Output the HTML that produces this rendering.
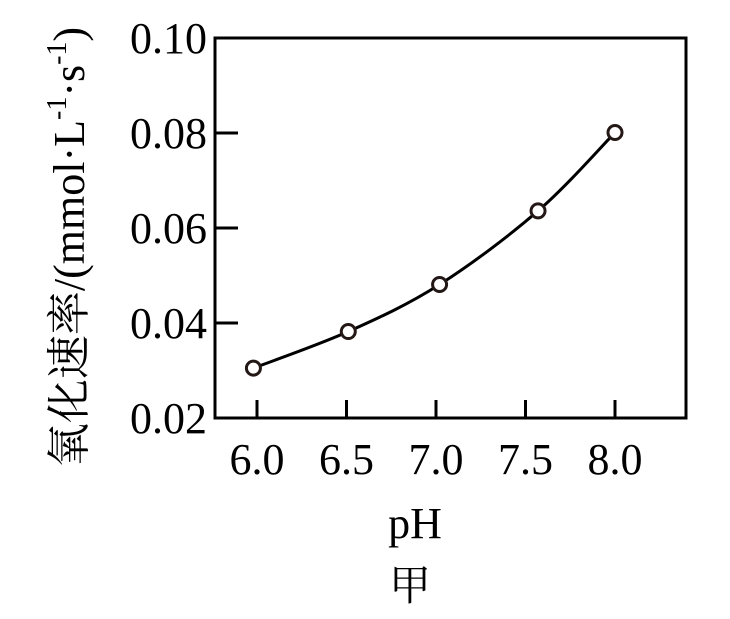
<!DOCTYPE html>
<html><head><meta charset="utf-8"><style>
body{margin:0;background:#fff}
svg text{font-family:"Liberation Serif","Noto Serif CJK SC",serif;fill:#000}
</style></head><body>
<svg width="730" height="614">
<g id="g"></g>
</svg>
<script>
const xTicks=[6.0,6.5,7.0,7.5,8.0];
const xTickLabels=["6.0","6.5","7.0","7.5","8.0"];
const yTicks=[0.02,0.04,0.06,0.08,0.10];
const yTickLabels=["0.02","0.04","0.06","0.08","0.10"];
const phValues=[5.98,6.51,7.02,7.57,8.0];
const rateValues=[0.0305,0.0382,0.0481,0.0636,0.0801];
const L=215,R=686,T=38,B=418;
const sx=v=>257+(v-6)*179;
const sy=v=>B-(v-0.02)*4750;
const ns="http://www.w3.org/2000/svg",g=document.getElementById('g');
function mk(t,a){const e=document.createElementNS(ns,t);for(const k in a)e.setAttribute(k,a[k]);g.appendChild(e);return e;}
let e=mk('rect',{x:L,y:T,width:R-L,height:B-T,fill:'none',stroke:'#000','stroke-width':3});


xTicks.forEach((v,i)=>{
 let t=mk('line',{x1:sx(v),x2:sx(v),y1:B,y2:B-18,stroke:'#000','stroke-width':3});
 
 
 let l=mk('text',{x:sx(v),y:B+56,'text-anchor':'middle','font-size':44});
 l.textContent=xTickLabels[i];
 
 
});
yTicks.forEach((v,i)=>{
 if(i>0&&i<yTicks.length-1){let t=mk('line',{x1:L,x2:L+23,y1:sy(v),y2:sy(v),stroke:'#000','stroke-width':3});
 
 }
 let l=mk('text',{x:L-8,y:sy(v)+15,'text-anchor':'end','font-size':44});
 l.textContent=yTickLabels[i];
 
 
});
const P=phValues.map((v,i)=>[sx(v),sy(rateValues[i])]);
let d='M'+P[0][0]+','+P[0][1];
for(let i=0;i<P.length-1;i++){const p0=P[i-1]||P[i],p1=P[i],p2=P[i+1],p3=P[i+2]||P[i+1];
 d+=` C${p1[0]+(p2[0]-p0[0])/6},${p1[1]+(p2[1]-p0[1])/6} ${p2[0]-(p3[0]-p1[0])/6},${p2[1]-(p3[1]-p1[1])/6} ${p2[0]},${p2[1]}`;}
e=mk('path',{d:d,fill:'none',stroke:'#000','stroke-width':3});


P.forEach(p=>{let c=mk('circle',{cx:p[0],cy:p[1],r:7,fill:'#fff',stroke:'#231815','stroke-width':3});
 
 });
e=mk('text',{x:415,y:538,'text-anchor':'middle','font-size':44});e.textContent='pH';


e=mk('text',{x:410,y:600,'text-anchor':'middle','font-size':42});e.textContent='甲';


e=mk('text',{transform:'translate(84,247) rotate(-90)','text-anchor':'middle','font-size':44});
e.innerHTML='氧化速率/(mmol·L<tspan font-size="28" dy="-18">-1</tspan><tspan dy="18">·s</tspan><tspan font-size="28" dy="-18">-1</tspan><tspan dy="18">)</tspan>';


</script>
</body></html>
